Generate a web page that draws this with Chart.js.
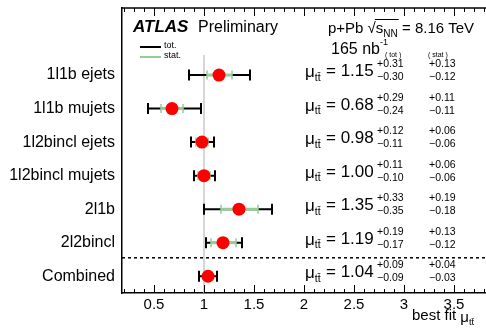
<!DOCTYPE html>
<html>
<head>
<meta charset="utf-8">
<script src="https://cdn.jsdelivr.net/npm/chart.js@4.4.1/dist/chart.umd.min.js"></script>
<style>
  html, body { margin: 0; padding: 0; background: #fff; }
  #wrap { width: 486px; height: 336px; }
</style>
</head>
<body>
<div id="wrap"><canvas id="chartFit"></canvas></div>
<script>
/* ============================
   best fit mu_ttbar per channel
   ============================ */

const categories = ["1l1b ejets", "1l1b mujets", "1l2bincl ejets", "1l2bincl mujets", "2l1b", "2l2bincl", "Combined"];
const rowPos = [6, 5, 4, 3, 2, 1, 0];
const mu = [1.15, 0.68, 0.98, 1.00, 1.35, 1.19, 1.04];
const totUp = [0.31, 0.29, 0.12, 0.11, 0.33, 0.19, 0.09];
const totDn = [0.30, 0.24, 0.11, 0.10, 0.35, 0.17, 0.09];
const statUp = [0.13, 0.11, 0.06, 0.06, 0.19, 0.13, 0.04];
const statDn = [0.12, 0.11, 0.06, 0.06, 0.18, 0.12, 0.03];
const xTicks = [0.5, 1, 1.5, 2, 2.5, 3, 3.5];

const FONT = "'Liberation Sans', Arial, Helvetica, sans-serif";
const GREEN = "#97cc97";

function font(size, style = "") {
  return `${style} ${size}px ${FONT}`.trim();
}

// mu with "tt-bar" subscript, returns x after it
function drawMu(ctx, x, y, size) {
  ctx.font = font(size);
  ctx.fillText("μ", x, y);
  let w = ctx.measureText("μ").width;
  ctx.font = font(size * 0.62);
  ctx.fillText("tt\u0304", x + w, y + size * 0.22);
  return x + w + ctx.measureText("tt\u0304").width;
}

const fitPlugin = {
  id: "fitPlugin",
  beforeDatasetsDraw(chart) {
    const { ctx, chartArea: a, scales: { x, y } } = chart;
    ctx.save();

    // reference line at mu = 1
    ctx.strokeStyle = "#c8c8c8";
    ctx.lineWidth = 1.5;
    ctx.beginPath();
    ctx.moveTo(x.getPixelForValue(1), y.getPixelForValue(6.6));
    ctx.lineTo(x.getPixelForValue(1), a.bottom);
    ctx.stroke();

    // separator before combined
    ctx.strokeStyle = "#000";
    ctx.setLineDash([3, 3]);
    ctx.beginPath();
    ctx.moveTo(a.left, y.getPixelForValue(0.55));
    ctx.lineTo(a.right, y.getPixelForValue(0.55));
    ctx.stroke();
    ctx.setLineDash([]);

    // error bars
    mu.forEach((m, i) => {
      const py = y.getPixelForValue(rowPos[i]);
      const t0 = x.getPixelForValue(m - totDn[i]);
      const t1 = x.getPixelForValue(m + totUp[i]);
      const s0 = x.getPixelForValue(m - statDn[i]);
      const s1 = x.getPixelForValue(m + statUp[i]);

      ctx.strokeStyle = "#000";
      ctx.lineWidth = 2;
      ctx.beginPath();
      ctx.moveTo(t0, py); ctx.lineTo(t1, py);
      ctx.moveTo(t0, py - 5.5); ctx.lineTo(t0, py + 5.5);
      ctx.moveTo(t1, py - 5.5); ctx.lineTo(t1, py + 5.5);
      ctx.stroke();

      ctx.strokeStyle = GREEN;
      ctx.lineWidth = 3;
      ctx.beginPath();
      ctx.moveTo(s0, py); ctx.lineTo(s1, py);
      ctx.stroke();
      ctx.lineWidth = 1.5;
      ctx.beginPath();
      ctx.moveTo(s0, py - 4.5); ctx.lineTo(s0, py + 4.5);
      ctx.moveTo(s1, py - 4.5); ctx.lineTo(s1, py + 4.5);
      ctx.stroke();
    });

    ctx.restore();
  },
  afterDraw(chart) {
    const { ctx, chartArea: a, scales: { x, y } } = chart;
    ctx.save();
    ctx.fillStyle = "#000";
    ctx.textBaseline = "alphabetic";
    ctx.textAlign = "left";

    // frame: top line and inward ticks on top and bottom
    ctx.strokeStyle = "#000";
    ctx.lineWidth = 1.5;
    ctx.beginPath();
    ctx.moveTo(a.left, a.top); ctx.lineTo(a.right, a.top);
    ctx.stroke();
    ctx.lineWidth = 1;
    ctx.beginPath();
    for (let k = 2; k <= 38; k++) {
      const px = Math.round(x.getPixelForValue(k / 10)) + 0.5;
      const len = k % 5 === 0 ? 8 : 4;
      ctx.moveTo(px, a.bottom); ctx.lineTo(px, a.bottom - len);
      ctx.moveTo(px, a.top); ctx.lineTo(px, a.top + len);
    }
    ctx.stroke();

    // header
    ctx.font = font(17, "italic bold");
    ctx.fillText("ATLAS", 133, 32);
    ctx.font = font(16);
    ctx.fillText("Preliminary", 198, 32);

    let cx = 328;
    ctx.font = font(15);
    ctx.fillText("p+Pb ", cx, 33);
    cx += ctx.measureText("p+Pb ").width;
    ctx.fillText("√", cx, 33);
    cx += ctx.measureText("√").width;
    const ov0 = cx - 1;
    ctx.fillText("s", cx, 33);
    cx += ctx.measureText("s").width;
    ctx.font = font(10);
    ctx.fillText("NN", cx, 37);
    cx += ctx.measureText("NN").width;
    ctx.lineWidth = 1;
    ctx.beginPath();
    ctx.moveTo(ov0, 19.5); ctx.lineTo(cx + 1, 19.5);
    ctx.stroke();
    ctx.font = font(15);
    ctx.fillText(" = 8.16 TeV", cx, 33);

    ctx.font = font(16);
    ctx.fillText("165 nb", 331, 54);
    cx = 331 + ctx.measureText("165 nb").width;
    ctx.font = font(9);
    ctx.fillText("-1", cx, 45);
    ctx.font = font(7);
    ctx.fillText("( tot )", cx + 5, 57);
    ctx.fillText("( stat )", 428, 57);

    // legend
    ctx.lineWidth = 2;
    ctx.strokeStyle = "#000";
    ctx.beginPath(); ctx.moveTo(140, 47); ctx.lineTo(161, 47); ctx.stroke();
    ctx.strokeStyle = GREEN;
    ctx.beginPath(); ctx.moveTo(140, 57); ctx.lineTo(161, 57); ctx.stroke();
    ctx.font = font(9);
    ctx.fillText("tot.", 164, 48);
    ctx.fillText("stat.", 164, 58);

    // per-row results
    mu.forEach((m, i) => {
      const py = y.getPixelForValue(rowPos[i]);
      drawMu(ctx, 305, py + 2, 17);
      ctx.font = font(17);
      ctx.fillText("= " + m.toFixed(2), 326, py + 1);
      ctx.font = font(10.5);
      ctx.fillText("+" + totUp[i].toFixed(2), 377, py - 8);
      ctx.fillText("\u2212" + totDn[i].toFixed(2), 377, py + 5);
      ctx.fillText("+" + statUp[i].toFixed(2), 429, py - 8);
      ctx.fillText("\u2212" + statDn[i].toFixed(2), 429, py + 5);
    });

    // x title
    ctx.font = font(15);
    ctx.fillText("best fit", 412, 320);
    drawMu(ctx, 412 + ctx.measureText("best fit ").width, 322, 15);

    ctx.restore();
  }
};

const fitChart = new Chart(document.getElementById("chartFit"), {
  type: "scatter",
  data: {
    datasets: [{
      data: mu.map((m, i) => ({ x: m, y: rowPos[i] })),
      backgroundColor: "#ff0000",
      borderWidth: 0,
      pointRadius: 6.5
    }]
  },
  options: {
    responsive: true,
    maintainAspectRatio: false,
    animation: false,
    events: [],
    layout: { autoPadding: false, padding: { top: 8, right: 0, bottom: 0, left: 0 } },
    plugins: { legend: { display: false }, tooltip: { enabled: false } },
    scales: {
      x: {
        type: "linear",
        min: 0.18,
        max: 3.82,
        afterFit: s => { s.height = 43; s.paddingLeft = 0; s.paddingRight = 0; },
        afterBuildTicks: s => { s.ticks = xTicks.map(v => ({ value: v })); },
        ticks: {
          color: "#000",
          font: { family: FONT, size: 15 },
          padding: 3,
          callback: v => String(v)
        },
        grid: { display: false, drawTicks: false },
        border: { color: "#000", width: 1.5 }
      },
      y: {
        type: "linear",
        min: -0.5,
        max: 8.0,
        afterFit: s => { s.width = 122; s.paddingTop = 0; s.paddingBottom = 0; },
        afterBuildTicks: s => { s.ticks = rowPos.map(v => ({ value: v })); },
        ticks: {
          color: "#000",
          font: { family: FONT, size: 16 },
          padding: 7,
          callback: v => categories[rowPos.indexOf(v)]
        },
        grid: { display: false, drawTicks: false },
        border: { color: "#000", width: 1.5 }
      }
    }
  },
  plugins: [fitPlugin]
});
</script>
</body>
</html>
